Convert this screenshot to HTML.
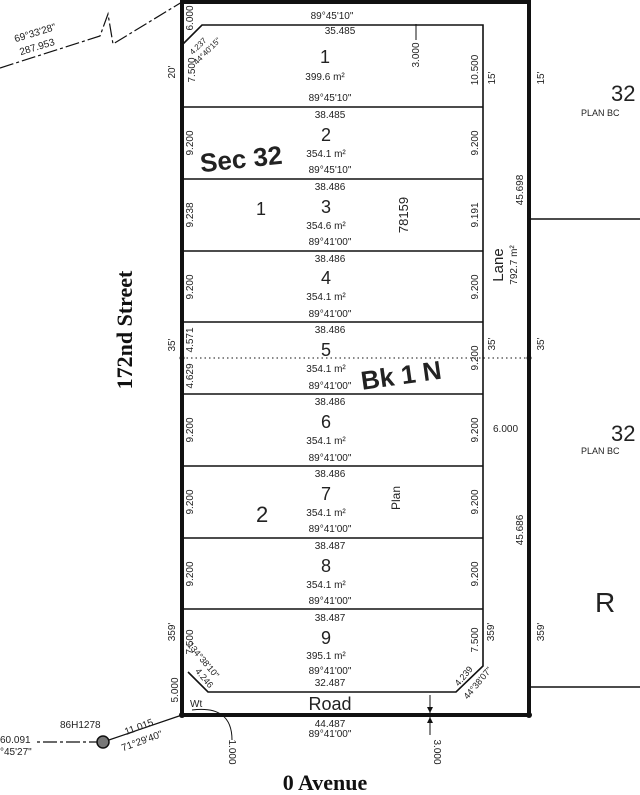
<!DOCTYPE html>
<html><head><meta charset="utf-8"><style>
html,body{margin:0;padding:0;background:#fff;}
svg{display:block;}
text{font-family:"Liberation Sans",sans-serif;fill:#222;}
.d{font-size:10px;}
.n{font-size:18px;}
.s{font-family:"Liberation Serif",serif;font-weight:bold;fill:#111;}
</style></head><body>
<svg width="640" height="795" viewBox="0 0 640 795" xmlns="http://www.w3.org/2000/svg">
<g stroke="#111" fill="none">
<path d="M182 2 L529 2 L529 715 L182 715 Z" stroke-width="4"/>
<path d="M182 45 L202 25 L483 25 L483 666 L456 692 L208 692 L188 672" stroke-width="1.6"/>
<g stroke-width="1.6">
<line x1="182" y1="107" x2="483" y2="107"/>
<line x1="182" y1="179" x2="483" y2="179"/>
<line x1="182" y1="251" x2="483" y2="251"/>
<line x1="182" y1="322" x2="483" y2="322"/>
<line x1="182" y1="394" x2="483" y2="394"/>
<line x1="182" y1="466" x2="483" y2="466"/>
<line x1="182" y1="538" x2="483" y2="538"/>
<line x1="182" y1="609" x2="483" y2="609"/>
<line x1="529" y1="219" x2="640" y2="219"/>
<line x1="529" y1="687" x2="640" y2="687"/>
</g>
<line x1="182" y1="358" x2="529" y2="358" stroke-width="1" stroke-dasharray="1.5 3"/>
<path d="M0 68 L100 36 L108 14 L113 44 L182 2" stroke-width="1.2" stroke-dasharray="14 3 3 3"/>
<line x1="182" y1="715" x2="103" y2="742" stroke-width="1.2"/>
<line x1="103" y1="742" x2="35" y2="742" stroke-width="1.2" stroke-dasharray="14 3 3 3"/>
<circle cx="103" cy="742" r="6" stroke-width="1.5" fill="#777"/>
<path d="M192 710 Q232 705 232 740" stroke-width="1"/>
<line x1="430" y1="695" x2="430" y2="713" stroke-width="1"/>
<line x1="430" y1="717" x2="430" y2="735" stroke-width="1"/>
<line x1="416" y1="24" x2="416" y2="40" stroke-width="1"/>
</g>
<path d="M427 707 L430 713 L433 707 Z M427 723 L430 717 L433 723 Z" fill="#111"/>
<circle cx="182" cy="715" r="3" fill="#111"/>
<circle cx="529" cy="715" r="3" fill="#111"/>
<circle cx="182" cy="358" r="2.5" fill="#111"/>
<circle cx="529" cy="358" r="2.5" fill="#111"/>

<g text-anchor="middle">
<text class="d" x="332" y="19">89°45'10"</text>
<text class="d" x="340" y="34">35.485</text>
<text class="n" x="325" y="63">1</text>
<text class="d" x="325" y="80">399.6 m²</text>
<text class="d" x="330" y="101">89°45'10"</text>

<text class="d" x="330" y="118">38.485</text>
<text class="n" x="326" y="141">2</text>
<text class="d" x="326" y="157">354.1 m²</text>
<text class="d" x="330" y="173">89°45'10"</text>

<text class="d" x="330" y="190">38.486</text>
<text class="n" x="326" y="213">3</text>
<text class="d" x="326" y="229">354.6 m²</text>
<text class="d" x="330" y="245">89°41'00"</text>

<text class="d" x="330" y="262">38.486</text>
<text class="n" x="326" y="284">4</text>
<text class="d" x="326" y="300">354.1 m²</text>
<text class="d" x="330" y="317">89°41'00"</text>

<text class="d" x="330" y="333">38.486</text>
<text class="n" x="326" y="356">5</text>
<text class="d" x="326" y="372">354.1 m²</text>
<text class="d" x="330" y="389">89°41'00"</text>

<text class="d" x="330" y="405">38.486</text>
<text class="n" x="326" y="428">6</text>
<text class="d" x="326" y="444">354.1 m²</text>
<text class="d" x="330" y="461">89°41'00"</text>

<text class="d" x="330" y="477">38.486</text>
<text class="n" x="326" y="500">7</text>
<text class="d" x="326" y="516">354.1 m²</text>
<text class="d" x="330" y="532">89°41'00"</text>

<text class="d" x="330" y="549">38.487</text>
<text class="n" x="326" y="572">8</text>
<text class="d" x="326" y="588">354.1 m²</text>
<text class="d" x="330" y="604">89°41'00"</text>

<text class="d" x="330" y="621">38.487</text>
<text class="n" x="326" y="644">9</text>
<text class="d" x="326" y="659">395.1 m²</text>
<text class="d" x="330" y="674">89°41'00"</text>
<text class="d" x="330" y="686">32.487</text>

<text x="330" y="710" font-size="18">Road</text>
<text class="d" x="330" y="727">44.487</text>
<text class="d" x="330" y="737">89°41'00"</text>
<text class="s" x="325" y="790" font-size="22">0  Avenue</text>
</g>

<g class="d" text-anchor="middle" font-size="10">
<text transform="translate(195,70) rotate(-90)">7.500</text>
<text transform="translate(193,143) rotate(-90)">9.200</text>
<text transform="translate(193,215) rotate(-90)">9.238</text>
<text transform="translate(193,287) rotate(-90)">9.200</text>
<text transform="translate(193,340) rotate(-90)">4.571</text>
<text transform="translate(193,376) rotate(-90)">4.629</text>
<text transform="translate(193,430) rotate(-90)">9.200</text>
<text transform="translate(193,502) rotate(-90)">9.200</text>
<text transform="translate(193,574) rotate(-90)">9.200</text>
<text transform="translate(193,642) rotate(-90)">7.500</text>
<text transform="translate(178,690) rotate(-90)">5.000</text>
<text transform="translate(193,18) rotate(-90)">6.000</text>
<text transform="translate(175,72) rotate(-90)">20'</text>
<text transform="translate(175,345) rotate(-90)">35'</text>
<text transform="translate(175,632) rotate(-90)">359'</text>

<text transform="translate(478,70) rotate(-90)">10.500</text>
<text transform="translate(478,143) rotate(-90)">9.200</text>
<text transform="translate(478,215) rotate(-90)">9.191</text>
<text transform="translate(478,287) rotate(-90)">9.200</text>
<text transform="translate(478,358) rotate(-90)">9.200</text>
<text transform="translate(478,430) rotate(-90)">9.200</text>
<text transform="translate(478,502) rotate(-90)">9.200</text>
<text transform="translate(478,574) rotate(-90)">9.200</text>
<text transform="translate(478,640) rotate(-90)">7.500</text>
<text transform="translate(495,78) rotate(-90)">15'</text>
<text transform="translate(544,78) rotate(-90)">15'</text>
<text transform="translate(495,344) rotate(-90)">35'</text>
<text transform="translate(544,344) rotate(-90)">35'</text>
<text transform="translate(494,632) rotate(-90)">359'</text>
<text transform="translate(544,632) rotate(-90)">359'</text>
<text transform="translate(523,190) rotate(-90)">45.698</text>
<text transform="translate(523,530) rotate(-90)">45.686</text>
<text transform="translate(419,55) rotate(-90)">3.000</text>
<text transform="translate(434,752) rotate(90)">3.000</text>
<text transform="translate(229,752) rotate(90)">1.000</text>
<text transform="translate(517,265) rotate(-90)">792.7 m²</text>
<text transform="translate(503,265) rotate(-90)" font-size="15">Lane</text>
<text transform="translate(408,215) rotate(-90)" font-size="13" fill="#555">78159</text>
<text transform="translate(400,498) rotate(-90)" font-size="12" fill="#555">Plan</text>
<text transform="translate(200,48) rotate(-45)" font-size="8">4.237</text>
<text transform="translate(209,53) rotate(-45)" font-size="8">44°40'15"</text>
<text transform="translate(201,662) rotate(50)" font-size="9">134°38'10"</text>
<text transform="translate(202,680) rotate(50)" font-size="9">4.246</text>
<text transform="translate(466,678) rotate(-50)" font-size="9">4.239</text>
<text transform="translate(480,685) rotate(-50)" font-size="9">44°38'07"</text>
<text transform="translate(140,730) rotate(-20)">11.015</text>
<text transform="translate(143,744) rotate(-20)">71°29'40"</text>
<text transform="translate(36,36) rotate(-17)">69°33'28"</text>
<text transform="translate(38,50) rotate(-17)">287.953</text>
</g>
<text class="s" transform="translate(132,330) rotate(-90)" text-anchor="middle" font-size="22">172nd  Street</text>
<text x="200" y="167" font-size="26" font-weight="bold" fill="#111" transform="rotate(-6 250 160)">Sec 32</text>
<text x="360" y="383" font-size="26" font-weight="bold" fill="#111" transform="rotate(-8 410 370)">Bk 1 N</text>
<text x="256" y="215" font-size="18" fill="#888" font-weight="100">1</text>
<text x="256" y="522" font-size="22" fill="#888">2</text>
<text class="d" x="493" y="432">6.000</text>
<text class="d" x="0" y="743">60.091</text>
<text class="d" x="0" y="755">°45'27"</text>
<text class="d" x="60" y="728">86H1278</text>
<text class="d" x="190" y="707">Wt</text>
<text x="611" y="101" font-size="22">32</text>
<text x="581" y="116" font-size="9">PLAN BC</text>
<text x="611" y="441" font-size="22">32</text>
<text x="581" y="454" font-size="9">PLAN BC</text>
<text x="595" y="612" font-size="28">R</text>
</svg>
</body></html>
